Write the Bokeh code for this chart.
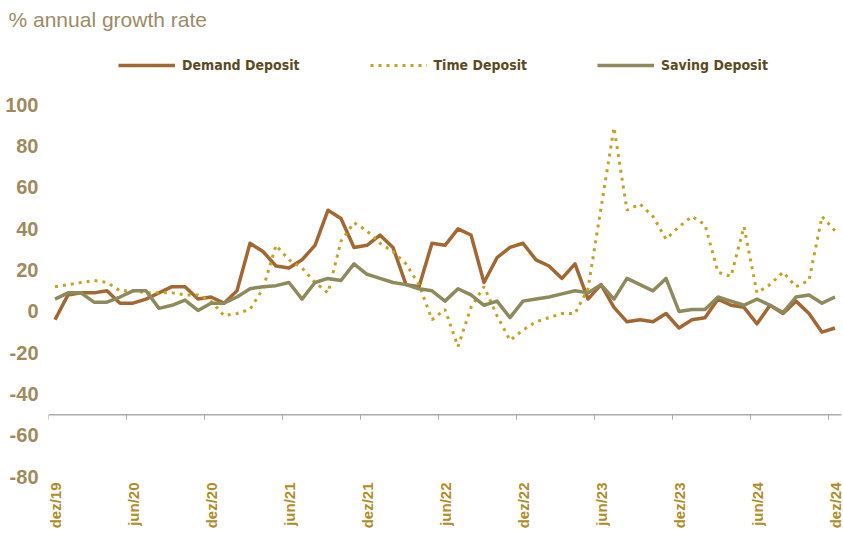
import numpy as np
from bokeh.plotting import figure
from bokeh.models import Range1d, FixedTicker, Legend, LegendItem, Span
from bokeh.embed import file_html
from bokeh.resources import INLINE

# ---- data (monthly, dez/19 .. dez/24) ----
month_abbr = ["jan", "fev", "mar", "abr", "mai", "jun", "jul", "ago", "set", "out", "nov", "dez"]
categories = ["dez/19"] + [f"{m}/{y}" for y in range(20, 25) for m in month_abbr]

demand = [-4, 8, 9, 9, 10, 4, 4, 6, 9, 12, 12, 6,
          7, 4, 10, 33, 29, 22, 21, 25, 32, 49, 45, 31,
          32, 37, 31, 13, 12, 33, 32, 40, 37, 14, 26, 31,
          33, 25, 22, 16, 23, 6, 13, 2, -5, -4, -5, -1,
          -8, -4, -3, 6, 3, 2, -6, 3, -1, 5, -1, -10, -8]

time_dep = [12, 13, 14, 15, 14, 10, 10, 9, 9, 9, 8, 8,
            5, -2, -1, 1, 11, 32, 25, 21, 14, 9, 34, 43,
            39, 33, 29, 23, 13, -4, 1, -17, 2, 12, -2, -14,
            -9, -5, -3, -1, -1, 11, 50, 89, 49, 52, 46, 35,
            41, 46, 42, 19, 17, 41, 9, 13, 19, 12, 15, 46, 39]

saving = [6, 9, 9, 4.5, 4.5, 7, 10, 10, 1.5, 3, 5.5, 0.5,
          4, 4, 7, 11, 12, 12.5, 14, 6, 14, 16, 15, 23,
          18, 16, 14, 13, 11, 10, 5, 11, 8, 3, 5, -3,
          5, 6, 7, 8.5, 10, 9, 13, 6, 16, 13, 10, 16,
          0, 1, 1, 7, 5, 3, 6, 3, -0.5, 7, 8, 4, 7]

series_names = ["Demand Deposit", "Time Deposit", "Saving Deposit"]
y_ticks = [-80, -60, -40, -20, 0, 20, 40, 60, 80, 100]
y_tick_labels = {v: str(v) for v in y_ticks}
axis_cross = -50
tick_every = 6

x = list(range(len(categories)))
label_pos = x[::tick_every]
tick_labels = {i: categories[i] for i in label_pos}
boundary_ticks = [i - 0.5 for i in label_pos]

C_DEMAND = "#A3672F"
C_TIME = "#C6A31E"
C_SAVING = "#8E8A5C"
C_AXIS = "#ABABAB"

p = figure(width=843, height=540,
           x_range=Range1d(-0.5, len(categories) - 0.5),
           y_range=Range1d(-81.8, 135),
           output_backend="svg", toolbar_location=None,
           min_border_left=48, min_border_right=2,
           min_border_top=32, min_border_bottom=60)
p.background_fill_color = "white"
p.border_fill_color = "white"
p.outline_line_color = None
p.xgrid.visible = False
p.ygrid.visible = False

# title
p.title.text = "% annual growth rate"
p.title.align = "left"
p.title.offset = -40
p.title.standoff = 3
p.title.text_font = "Liberation Sans"
p.title.text_font_style = "normal"
p.title.text_font_size = "21px"
p.title.text_color = "#9C8B66"

# y axis
ya = p.yaxis[0]
ya.ticker = FixedTicker(ticks=y_ticks)
ya.major_label_overrides = y_tick_labels
ya.axis_line_color = None
ya.major_tick_line_color = None
ya.minor_tick_line_color = None
ya.major_tick_out = 0
ya.major_tick_in = 0
ya.major_label_standoff = 10
ya.major_label_text_font = "Liberation Sans"
ya.major_label_text_font_style = "bold"
ya.major_label_text_font_size = "20px"
ya.major_label_text_color = "#A08A5C"

# x axis (labels only)
xa = p.xaxis[0]
xa.ticker = FixedTicker(ticks=label_pos)
xa.major_label_overrides = tick_labels
xa.major_label_orientation = np.pi / 2
xa.axis_line_color = None
xa.major_tick_line_color = None
xa.minor_tick_line_color = None
xa.major_tick_out = 0
xa.major_tick_in = 0
xa.major_label_standoff = 2
xa.major_label_text_font = "Liberation Sans"
xa.major_label_text_font_style = "bold"
xa.major_label_text_font_size = "15px"
xa.major_label_text_color = "#B08C24"

# category axis line crossing at -50, with tick marks between categories
p.add_layout(Span(location=axis_cross, dimension="width",
                  line_color=C_AXIS, line_width=1.5))
p.segment(x0=boundary_ticks, y0=[axis_cross] * len(boundary_ticks),
          x1=boundary_ticks, y1=[axis_cross - 2.4] * len(boundary_ticks),
          line_color=C_AXIS, line_width=1)

r_d = p.line(x, demand, line_color=C_DEMAND, line_width=3.5, line_join="round")
r_t = p.line(x, time_dep, line_color=C_TIME, line_width=3, line_dash="3 5")
r_s = p.line(x, saving, line_color=C_SAVING, line_width=3.5, line_join="round")

legend = Legend(items=[LegendItem(label=series_names[0], renderers=[r_d]),
                       LegendItem(label=series_names[1], renderers=[r_t]),
                       LegendItem(label=series_names[2], renderers=[r_s])],
                orientation="horizontal", location=(70, 405),
                glyph_width=57, glyph_height=20, label_standoff=7, spacing=70,
                padding=0, margin=0, border_line_color=None,
                background_fill_alpha=0,
                label_text_font="'DejaVu Sans Condensed', 'DejaVu Sans', sans-serif",
                label_text_font_style="bold", label_text_font_size="14px",
                label_text_color="#5B4B1C")
p.add_layout(legend)

open("out.html", "w").write(file_html(p, INLINE))
